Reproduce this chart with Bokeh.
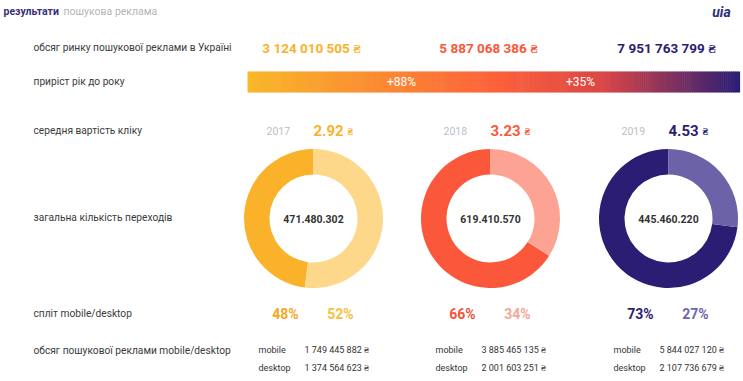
import numpy as np
from bokeh.plotting import figure
from bokeh.models import Range1d
from bokeh.core.properties import value
from bokeh.embed import file_html
from bokeh.resources import INLINE

# ---------------- data ----------------
years = ["2017", "2018", "2019"]
market_volume = ["3 124 010 505 ₴", "5 887 068 386 ₴", "7 951 763 799 ₴"]
growth = ["+88%", "+35%"]
cpc = ["2.92", "3.23", "4.53"]
clicks = ["471.480.302", "619.410.570", "445.460.220"]
mobile_share = [48, 66, 73]
desktop_share = [52, 34, 27]
mobile_volume = ["1 749 445 882 ₴", "3 885 465 135 ₴", "5 844 027 120 ₴"]
desktop_volume = ["1 374 564 623 ₴", "2 001 603 251 ₴", "2 107 736 679 ₴"]
row_labels = ["обсяг ринку пошукової реклами в Україні", "приріст рік до року",
              "середня вартість кліку", "загальна кількість переходів",
              "спліт mobile/desktop", "обсяг пошукової реклами mobile/desktop"]

# ---------------- styles ----------------
main_col = ["#f9b22a", "#fb573b", "#2b1d73"]
light_col = ["#fdd88a", "#fda393", "#6c62a8"]
pct_mob_col = ["#f5a623", "#f0553f", "#2b1d73"]
pct_desk_col = ["#f5c240", "#f4a698", "#6f66ad"]
FONT = value("Roboto")

W, H = 743, 381
p = figure(width=W, height=H, output_backend="svg", toolbar_location=None,
           x_range=Range1d(0, W), y_range=Range1d(0, H),
           min_border=0, outline_line_color=None)
p.axis.visible = False
p.grid.visible = False
p.background_fill_color = "white"

def Y(y):
    return 381 - y

def txt(x, y, t, size, color, align="left", style="normal", font=FONT):
    p.text(x=[x], y=[Y(y)], text=[t], text_font=font, text_font_size=f"{size}px",
           text_color=color, text_align=align, text_baseline="middle",
           text_font_style=style)

# header
txt(3, 11, "результати", 10.5, "#3a2f7a", style="bold")
txt(63, 11, "пошукова реклама", 10.5, "#b5b5b5")
txt(721, 11, "uia", 14, "#2b2f7a", align="center", style="bold italic")

# row labels
label_y = [47, 81, 130, 217, 313, 350]
for lab, yy in zip(row_labels, label_y):
    txt(33, yy, lab, 10.2, "#3a3a3a")

col_x = [313, 490, 668]

# market volume
for i in range(3):
    txt(col_x[i] - 2, 47, market_volume[i], 13.5, main_col[i], align="center", style="bold")

# gradient bar
x0, x1 = 247, 739
n = 240
edges = np.linspace(x0, x1, n + 1)
stops = [(0.0, (249, 184, 42)), (0.5, (253, 98, 58)), (0.72, (220, 70, 70)), (1.0, (42, 30, 118))]
def interp(t):
    for (a, ca), (b, cb) in zip(stops[:-1], stops[1:]):
        if a <= t <= b:
            f = (t - a) / (b - a)
            c = [int(round(ca[k] + (cb[k] - ca[k]) * f)) for k in range(3)]
            return "#%02x%02x%02x" % tuple(c)
    return "#2a1e76"
cols = [interp((i + 0.5) / n) for i in range(n)]
p.quad(left=edges[:-1], right=edges[1:] + 0.6, bottom=Y(92), top=Y(71), fill_color=cols, line_color=None)
for gx, g in zip([401, 580], growth):
    txt(gx, 81.5, g, 12, "white", align="center")

# cpc row
for i in range(3):
    txt(col_x[i] - 47, 130, years[i], 10.5, "#b8c0c6")
    txt(col_x[i], 130, cpc[i], 15, main_col[i], style="bold")
    txt(col_x[i] + 34, 131, "₴", 10, main_col[i], style="bold")

# donuts
r_in, r_out = 44, 69.5
for i in range(3):
    cx, cy = col_x[i], Y(218)
    m = mobile_share[i] / (mobile_share[i] + desktop_share[i])
    a0 = np.pi / 2
    a1 = np.pi / 2 + m * 2 * np.pi
    p.annular_wedge(x=[cx], y=[cy], inner_radius=r_in, outer_radius=r_out,
                    start_angle=a0, end_angle=a1, fill_color=main_col[i], line_color=None)
    p.annular_wedge(x=[cx], y=[cy], inner_radius=r_in, outer_radius=r_out,
                    start_angle=a1, end_angle=a0 + 2 * np.pi, fill_color=light_col[i], line_color=None)
    txt(cx, 218, clicks[i], 10.5, "#333333", align="center", style="bold")

# split row
for i in range(3):
    txt(col_x[i] - 28, 313, f"{mobile_share[i]}%", 14, pct_mob_col[i], align="center", style="bold")
    txt(col_x[i] + 27, 313, f"{desktop_share[i]}%", 14, pct_desk_col[i], align="center", style="bold")

# volume split
for i in range(3):
    txt(col_x[i] - 55, 349, "mobile", 9, "#333333")
    txt(col_x[i] - 9, 349, mobile_volume[i], 9, "#333333")
    txt(col_x[i] - 55, 367, "desktop", 9, "#333333")
    txt(col_x[i] - 9, 367, desktop_volume[i], 9, "#333333")

open("out.html", "w").write(file_html(p, INLINE))
